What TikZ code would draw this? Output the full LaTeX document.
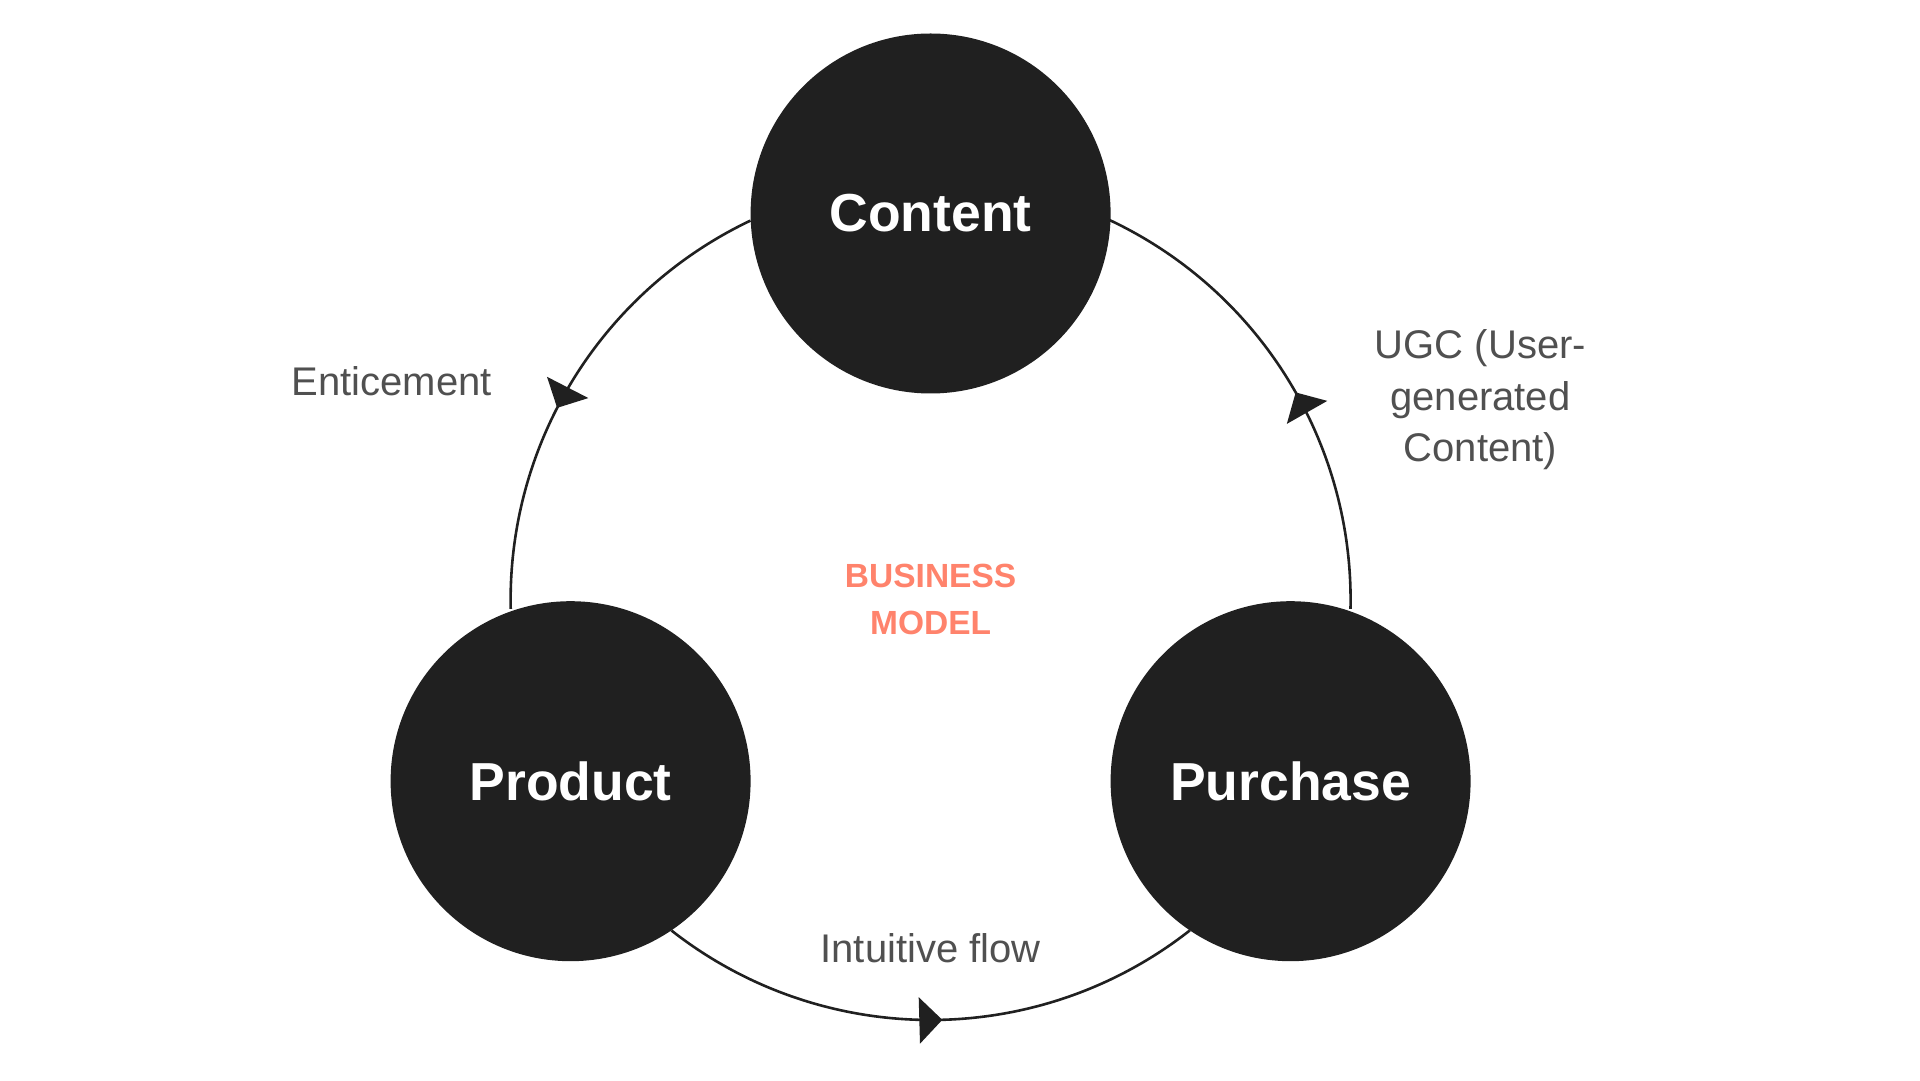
\documentclass[tikz,border=0pt]{standalone}
\usepackage{fontspec}
\setmainfont{Liberation Sans}
\usetikzlibrary{arrows.meta,decorations.markings}
\definecolor{ink}{HTML}{202020}
\definecolor{labelgray}{HTML}{505050}
\definecolor{coral}{HTML}{FF836C}
\tikzset{
  hub/.style={circle, fill=ink, draw=none, minimum size=360pt, inner sep=0pt,
    text=white, font=\fontsize{53.5}{60}\selectfont\bfseries},
  flowline/.style={draw=ink, line width=2.6pt},
  lbl/.style={text=labelgray, font=\fontsize{40}{51.4}\selectfont, align=center},
  title/.style={text=coral, font=\fontsize{33.5}{47}\selectfont\bfseries, align=center},
}
\begin{document}
\begin{tikzpicture}[x=1pt,y=1pt]
\useasboundingbox (0,0) rectangle (1920,1080);
\coordinate (O) at (930.6,480);
% arcs with arrowheads
\draw[flowline, postaction={decorate}, decoration={markings, mark=at position 0.568 with {\arrow[ink]{Triangle[length=23pt,width=46pt]}}}]
  ([shift={(115.4:420)}]O) arc[start angle=115.4, end angle=181.2, radius=420];
\draw[flowline, postaction={decorate}, decoration={markings, mark=at position 0.521 with {\arrow[ink]{Triangle[length=23pt,width=46pt]}}}]
  ([shift={(231.9:420)}]O) arc[start angle=231.9, end angle=308.1, radius=420];
\draw[flowline, postaction={decorate}, decoration={markings, mark=at position 0.467 with {\arrow[ink]{Triangle[length=23pt,width=46pt]}}}]
  ([shift={(-1.2:420)}]O) arc[start angle=-1.2, end angle=64.8, radius=420];
% hubs
\node[hub] (content) at (930.6,866.5) {Content};
\node[hub] (product) at (570.6,298.8) {Product};
\node[hub] (purchase) at (1290.6,298.8) {Purchase};
% labels
\node[title] (bm) at (930.6,480.7) {BUSINESS\\MODEL};
\node[lbl] (entice) at (391.8,699.2) {Enticement};
\node[lbl] (ugc) at (1480.4,680) {UGC (User-\\generated\\Content)};
\node[lbl] (intuitive) at (930.6,132.2) {Intuitive flow};
\end{tikzpicture}
\end{document}
